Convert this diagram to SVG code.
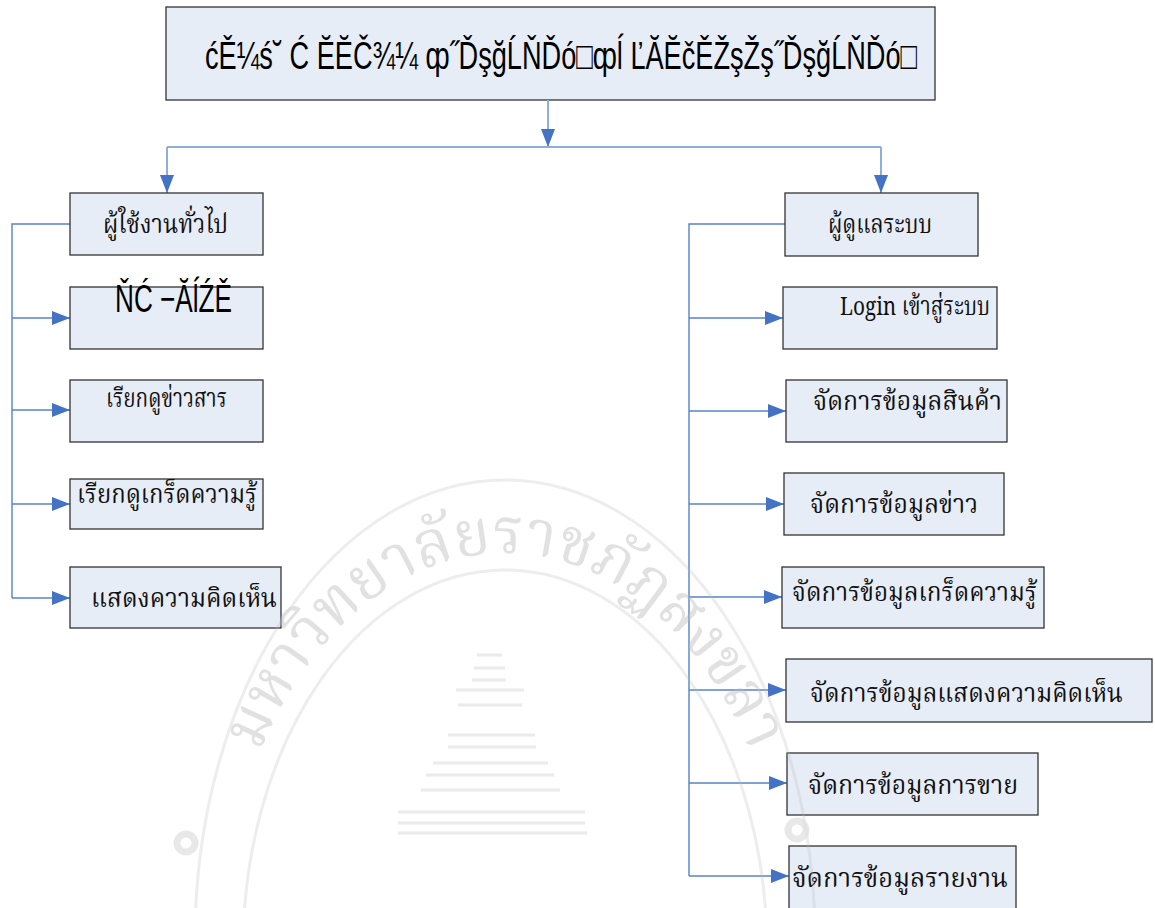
<svg xmlns="http://www.w3.org/2000/svg" width="1155" height="908" viewBox="0 0 1155 908">
<style>
.box{fill:#e7edf7;stroke:#333;stroke-width:1.3}
.th{font-family:"Noto Serif Thai","Noto Sans Thai","Liberation Serif",serif;font-size:26px;fill:#111}
.mj{font-family:"Liberation Sans","DejaVu Sans",sans-serif;font-size:38px;fill:#000}
.ln{fill:none;stroke:#5683c8;stroke-width:1.4}
.lt{fill:none;stroke:#8eaedb;stroke-width:2}
.wm{fill:none;stroke:#bbb;stroke-width:3;opacity:0.45}
</style>
<defs>
<marker id="ah" markerWidth="18" markerHeight="14" refX="18" refY="7" orient="auto" markerUnits="userSpaceOnUse">
<path d="M0,0 L18,7 L0,14 Z" fill="#4472c4"/>
</marker>
<path id="wmArc" d="M243,800 A282,392 0 0 1 767,800"/>
</defs>
<rect width="1155" height="908" fill="#fff"/>

<g id="title">
<rect class="box" x="166" y="7" width="769" height="93"/>
<text class="mj" x="205" y="69" textLength="712" lengthAdjust="spacingAndGlyphs">ćĚ¼ś˘ Ć ĔĔČ¾¼ ȹ˝ĎşğĹŇĎó□ȹĺ ĽĂĔčĚŽşŽş˝ĎşğĹŇĎó□</text>
</g>

<g id="connectors">
<path class="lt" d="M548,100 V147" marker-end="url(#ah)"/>
<path class="lt" d="M167,147 H881"/>
<path class="lt" d="M167,147 V193" marker-end="url(#ah)"/>
<path class="lt" d="M881,147 V193" marker-end="url(#ah)"/>
<path class="ln" d="M70,224 H12 V598"/>
<path class="ln" d="M12,318 H70" marker-end="url(#ah)"/>
<path class="ln" d="M12,410 H70" marker-end="url(#ah)"/>
<path class="ln" d="M12,504 H70" marker-end="url(#ah)"/>
<path class="ln" d="M12,598 H70" marker-end="url(#ah)"/>
<path class="ln" d="M785,224 H689 V876" stroke-width="1.8"/>
<path class="ln" d="M689,318 H783" marker-end="url(#ah)"/>
<path class="ln" d="M689,411 H786" marker-end="url(#ah)"/>
<path class="ln" d="M689,504 H784" marker-end="url(#ah)"/>
<path class="ln" d="M689,597 H782" marker-end="url(#ah)"/>
<path class="ln" d="M689,690 H786" marker-end="url(#ah)"/>
<path class="ln" d="M689,783 H787" marker-end="url(#ah)"/>
<path class="ln" d="M689,876 H789" marker-end="url(#ah)"/>
</g>

<g id="user">
<rect class="box" x="70" y="193" width="193" height="62"/>
<text class="th" x="103" y="233" textLength="125" lengthAdjust="spacingAndGlyphs">ผู้ใช้งานทั่วไป</text>
</g>
<g id="user-item1">
<rect class="box" x="70" y="287" width="193" height="62"/>
<text class="mj" x="115" y="312" font-size="32" textLength="117" lengthAdjust="spacingAndGlyphs">ŇĆ −ĂĺŹĚ</text>
</g>
<g id="user-news">
<rect class="box" x="70" y="380" width="193" height="62"/>
<text class="th" x="106" y="407" textLength="121" lengthAdjust="spacingAndGlyphs">เรียกดูข่าวสาร</text>
</g>
<g id="user-tips">
<rect class="box" x="70" y="479" width="193" height="50"/>
<text class="th" x="77" y="503" textLength="180" lengthAdjust="spacingAndGlyphs">เรียกดูเกร็ดความรู้</text>
</g>
<g id="user-comment">
<rect class="box" x="70" y="567" width="211" height="61"/>
<text class="th" x="91" y="607" textLength="186" lengthAdjust="spacingAndGlyphs">แสดงความคิดเห็น</text>
</g>

<g id="admin">
<rect class="box" x="785" y="193" width="193" height="63"/>
<text class="th" x="828" y="233" textLength="104" lengthAdjust="spacingAndGlyphs">ผู้ดูแลระบบ</text>
</g>
<g id="admin-login">
<rect class="box" x="783" y="287" width="214" height="62"/>
<text class="th" x="840" y="315" font-size="19" textLength="150" lengthAdjust="spacingAndGlyphs">Login เข้าสู่ระบบ</text>
</g>
<g id="admin-products">
<rect class="box" x="786" y="380" width="221" height="62"/>
<text class="th" x="813" y="410" textLength="189" lengthAdjust="spacingAndGlyphs">จัดการข้อมูลสินค้า</text>
</g>
<g id="admin-news">
<rect class="box" x="784" y="473" width="220" height="62"/>
<text class="th" x="810" y="513" textLength="168" lengthAdjust="spacingAndGlyphs">จัดการข้อมูลข่าว</text>
</g>
<g id="admin-tips">
<rect class="box" x="782" y="567" width="262" height="61"/>
<text class="th" x="792" y="601" textLength="245" lengthAdjust="spacingAndGlyphs">จัดการข้อมูลเกร็ดความรู้</text>
</g>
<g id="admin-comments">
<rect class="box" x="786" y="659" width="366" height="63"/>
<text class="th" x="810" y="702" textLength="313" lengthAdjust="spacingAndGlyphs">จัดการข้อมูลแสดงความคิดเห็น</text>
</g>
<g id="admin-sales">
<rect class="box" x="787" y="753" width="251" height="62"/>
<text class="th" x="808" y="794" textLength="210" lengthAdjust="spacingAndGlyphs">จัดการข้อมูลการขาย</text>
</g>
<g id="admin-reports">
<rect class="box" x="789" y="846" width="227" height="70"/>
<text class="th" x="792" y="887" textLength="216" lengthAdjust="spacingAndGlyphs">จัดการข้อมูลรายงาน</text>
</g>

<g id="watermark" opacity="0.55">
<ellipse class="wm" cx="505" cy="940" rx="310" ry="460"/>
<ellipse class="wm" cx="505" cy="950" rx="262" ry="380"/>
<text font-family="Noto Serif Thai,Noto Sans Thai,Liberation Serif,serif" font-size="64" fill="#b8b8b8" opacity="0.75"><textPath href="#wmArc" startOffset="50%" text-anchor="middle" textLength="670" lengthAdjust="spacingAndGlyphs">มหาวิทยาลัยราชภัฏสงขลา</textPath></text>
<g stroke="#c4c4c4" stroke-width="3" opacity="0.6">
<path d="M477,655 H502 M474,668 H505 M472,680 H506 M456,690 H524 M458,705 H522 M448,735 H535 M448,747 H536 M433,763 H548 M426,775 H554 M421,790 H560 M398,812 H585 M398,823 H585 M398,833 H587"/>
</g>
<circle cx="186" cy="843" r="9" fill="none" stroke="#c4c4c4" stroke-width="7" opacity="0.7"/>
<circle cx="797" cy="830" r="9" fill="none" stroke="#c4c4c4" stroke-width="7" opacity="0.7"/>
</g>
</svg>
